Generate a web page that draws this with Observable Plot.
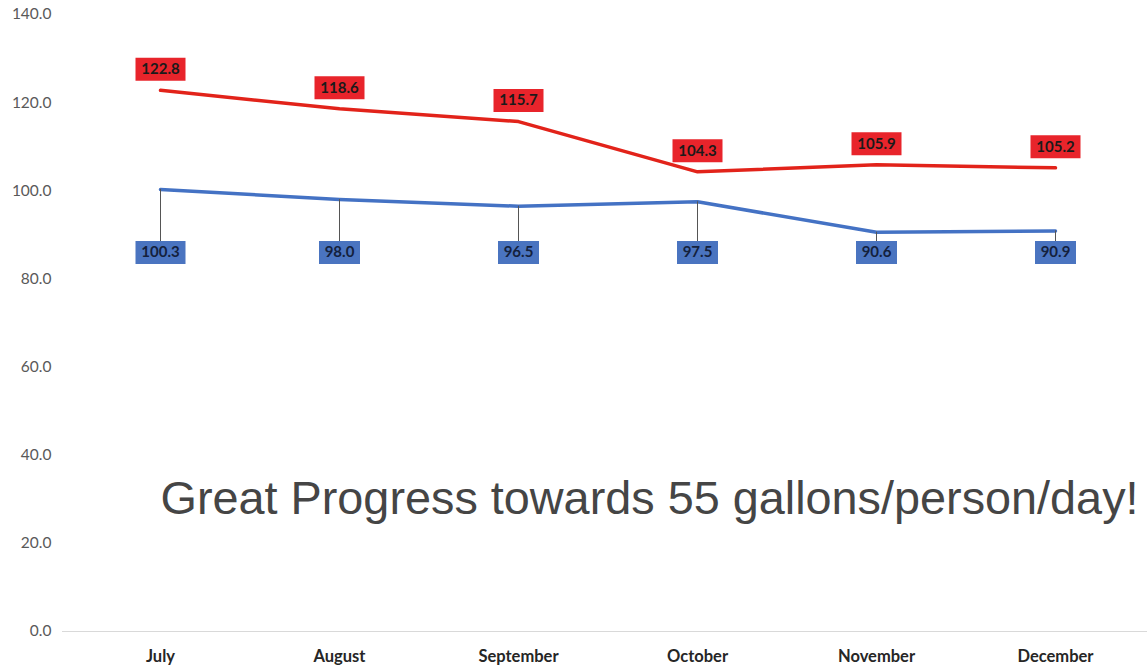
<!DOCTYPE html>
<html><head><meta charset="utf-8">
<script src="https://cdn.jsdelivr.net/npm/d3@7"></script>
<script src="https://cdn.jsdelivr.net/npm/@observablehq/plot@0.6"></script>
<style>body{margin:0;background:#fff;overflow:hidden}</style>
</head><body><div id="chart"></div>
<script>
const months = ["July","August","September","October","November","December"];
const redValues = [122.8,118.6,115.7,104.3,105.9,105.2];
const blueValues = [100.3,98.0,96.5,97.5,90.6,90.9];
const yTicks = [0,20,40,60,80,100,120,140];
const note = "Great Progress towards 55 gallons/person/day!";

const red = months.map((m,i)=>({month:m, value:redValues[i], label:redValues[i].toFixed(1)}));
const blue = months.map((m,i)=>({month:m, value:blueValues[i], label:blueValues[i].toFixed(1)}));

const BLUE_LABEL_LEVEL = 86;
const boxSymbol = {draw(ctx, size){ const hw = Math.sqrt(size/Math.PI); ctx.rect(-hw,-11.5,2*hw,23); }};
const halfWidth = d => (d.label.length*9+5)/2;

const chart = Plot.plot({
  width: 1147, height: 670,
  marginLeft: 62, marginRight: 0, marginTop: 14, marginBottom: 39,
  style: {fontFamily: "Lato, 'Open Sans', sans-serif", background: "#fff"},
  x: {type: "point", domain: months, insetLeft: 6, label: null},
  y: {domain: [0,140], label: null},
  r: {type: "identity"},
  marks: [
    Plot.ruleY([0], {stroke: "#d9d9d9", strokeWidth: 1}),
    Plot.axisY({ticks: yTicks, tickFormat: d => d.toFixed(1), tickSize: 0, tickPadding: 11, fontSize: 15.5, fill: "#595959", label: null}),
    Plot.axisX({tickSize: 0, tickPadding: 19, fontSize: 16.5, fontWeight: "bold", fill: "#262626", label: null}),
    Plot.text([note], {x: () => months[0], y: () => 30, text: d => d, textAnchor: "start",
      fontSize: 46.8, fontFamily: "'Liberation Sans', Arial, sans-serif", fill: "#454545"}),
    Plot.line(red, {x: "month", y: "value", stroke: "#e2231a", strokeWidth: 3.5}),
    Plot.line(blue, {x: "month", y: "value", stroke: "#4472c4", strokeWidth: 3.5}),
    Plot.ruleX(blue, {x: "month", y1: "value", y2: () => BLUE_LABEL_LEVEL, stroke: "#555", strokeWidth: 1}),
    Plot.dot(red, {x: "month", y: "value", dy: -21, r: halfWidth, symbol: boxSymbol, fill: "#e8242b", stroke: "none"}),
    Plot.text(red, {x: "month", y: "value", dy: -21, text: "label", fontWeight: "bold", fontSize: 15, fill: "#1a1a1a"}),
    Plot.dot(blue, {x: "month", y: () => BLUE_LABEL_LEVEL, r: halfWidth, symbol: boxSymbol, fill: "#4a74c0", stroke: "none"}),
    Plot.text(blue, {x: "month", y: () => BLUE_LABEL_LEVEL, text: "label", fontWeight: "bold", fontSize: 15, fill: "#14213d"})
  ]
});
document.getElementById("chart").append(chart);
</script>
</body></html>
